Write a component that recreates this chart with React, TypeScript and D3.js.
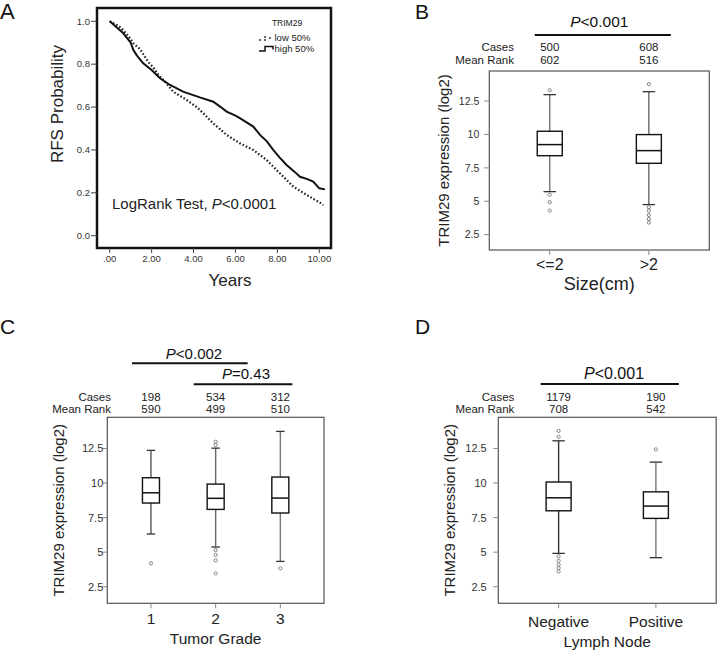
import * as d3 from "d3";

const FONT = "'Liberation Sans', Arial, Helvetica, sans-serif";

// ---- Panel A: RFS Kaplan-Meier by TRIM29 ----
const kmHighYears = [0, 0.3, 0.65, 1.0, 1.13, 1.3, 1.6, 2.0, 2.4, 2.88, 3.5, 4.3, 4.94, 5.3, 5.58, 6.0, 6.21, 6.85, 7.17, 7.5, 7.8, 8.1, 8.44, 8.8, 9.08, 9.4, 9.71, 10.0, 10.27];
const kmHighSurv = [1.0, 0.975, 0.944, 0.9, 0.866, 0.84, 0.804, 0.773, 0.734, 0.703, 0.672, 0.645, 0.625, 0.6, 0.579, 0.56, 0.548, 0.509, 0.47, 0.44, 0.4, 0.365, 0.33, 0.3, 0.275, 0.265, 0.252, 0.221, 0.216];
const kmLowYears = [0, 0.3, 0.57, 0.9, 1.13, 1.45, 1.84, 2.08, 2.32, 2.72, 3.03, 3.67, 4.15, 4.31, 4.94, 5.58, 6.21, 6.85, 7.49, 8.12, 8.76, 9.4, 10.03, 10.19];
const kmLowSurv = [1.0, 0.985, 0.967, 0.93, 0.897, 0.87, 0.81, 0.785, 0.75, 0.71, 0.672, 0.633, 0.6, 0.586, 0.524, 0.47, 0.431, 0.4, 0.353, 0.291, 0.229, 0.19, 0.154, 0.143];
const kmXTicks = [0, 2, 4, 6, 8, 10];
const kmYTicks = [0, 0.2, 0.4, 0.6, 0.8, 1.0];

// ---- Panel B: tumour size ----
const sizeCats = ["<=2", ">2"];
const sizeCases = [500, 608];
const sizeRank = [602, 516];
const sizeLo = [5.72, 4.75];
const sizeQ1 = [8.41, 7.84];
const sizeMed = [9.24, 8.79];
const sizeQ3 = [10.24, 9.99];
const sizeHi = [12.98, 13.2];
const sizeOut = [[13.31, 5.49, 4.93, 4.3], [13.76, 4.55, 4.3, 3.97, 3.67, 3.4]];

// ---- Panel C: tumour grade ----
const gradeCats = ["1", "2", "3"];
const gradeCases = [198, 534, 312];
const gradeRank = [590, 499, 510];
const gradeLo = [6.31, 5.37, 4.33];
const gradeQ1 = [8.55, 8.09, 7.83];
const gradeMed = [9.29, 8.89, 8.91];
const gradeQ3 = [10.38, 9.92, 10.43];
const gradeHi = [12.36, 12.52, 13.73];
const gradeOut = [[4.19], [12.98, 12.75, 5.15, 4.8, 4.4, 3.46], [3.83]];

// ---- Panel D: lymph node ----
const nodeCats = ["Negative", "Positive"];
const nodeCases = [1179, 190];
const nodeRank = [708, 542];
const nodeLo = [4.91, 4.6];
const nodeQ1 = [7.99, 7.44];
const nodeMed = [8.93, 8.33];
const nodeQ3 = [10.07, 9.36];
const nodeHi = [13.05, 11.51];
const nodeOut = [[13.77, 13.34, 4.7, 4.38, 4.1, 3.85, 3.6], [12.43]];

const boxTicks = [2.5, 5, 7.5, 10, 12.5];

type PBar = { from: number; to: number; dx0: number; dx1: number; y: number; text: string; tx: number; ty: number; fs: number };

type BoxProps = {
  cats: string[]; cases: number[]; rank: number[];
  lo: number[]; q1: number[]; med: number[]; q3: number[]; hi: number[]; out: number[][];
  x0: number; x1: number; y0: number; y1: number; domain: [number, number]; pad: number; bw: number;
  tickFs: number; labelGap: number; bars: PBar[]; headY: number; headRight: number;
  catY: number; catFs: number; title: string; titleY: number; titleFs: number; ylabX: number;
  whiskerColor: string[];
};

function BoxPanel(p: BoxProps) {
  const x = d3.scalePoint<string>().domain(p.cats).range([p.x0, p.x1]).padding(p.pad);
  const y = d3.scaleLinear().domain(p.domain).range([p.y1, p.y0]);
  const cx = (i: number) => x(p.cats[i]) as number;
  const hw = p.bw / 2;
  const gap = 12.6;
  return (
    <g fontFamily={FONT}>
      {p.bars.map((b, i) => (
        <g key={i}>
          <line x1={cx(b.from) + b.dx0} x2={cx(b.to) + b.dx1} y1={b.y} y2={b.y} stroke="#111" strokeWidth={2} />
          <text x={b.tx} y={b.ty} fontSize={b.fs} textAnchor="middle" fill="#111">
            <tspan fontStyle="italic">P</tspan>{b.text}
          </text>
        </g>
      ))}
      <text x={p.headRight} y={p.headY} fontSize={11.5} textAnchor="end" fill="#222">Cases</text>
      <text x={p.headRight} y={p.headY + gap} fontSize={11.5} textAnchor="end" fill="#222">Mean Rank</text>
      {p.cats.map((c, i) => (
        <g key={c}>
          <text x={cx(i)} y={p.headY} fontSize={11.5} textAnchor="middle" fill="#222">{p.cases[i]}</text>
          <text x={cx(i)} y={p.headY + gap} fontSize={11.5} textAnchor="middle" fill="#222">{p.rank[i]}</text>
        </g>
      ))}
      <rect x={p.x0} y={p.y0} width={p.x1 - p.x0} height={p.y1 - p.y0} fill="none" stroke="#555" strokeWidth={1.2} />
      {boxTicks.map((t) => (
        <g key={t}>
          <line x1={p.x0 - 5} x2={p.x0} y1={y(t)} y2={y(t)} stroke="#888" />
          <text x={p.x0 - p.labelGap} y={y(t) + p.tickFs * 0.36} fontSize={p.tickFs} textAnchor="end" fill="#333">{t}</text>
        </g>
      ))}
      {p.cats.map((c, i) => {
        const xc = cx(i);
        const wc = p.whiskerColor[i];
        return (
          <g key={c}>
            <line x1={xc} x2={xc} y1={p.y1} y2={p.y1 + 5} stroke="#888" />
            <text x={xc} y={p.catY} fontSize={p.catFs} textAnchor="middle" fill="#222">{c}</text>
            <line x1={xc} x2={xc} y1={y(p.hi[i])} y2={y(p.q3[i])} stroke={wc} strokeWidth={1.4} />
            <line x1={xc} x2={xc} y1={y(p.q1[i])} y2={y(p.lo[i])} stroke={wc} strokeWidth={1.4} />
            <line x1={xc - hw / 2} x2={xc + hw / 2} y1={y(p.hi[i])} y2={y(p.hi[i])} stroke="#333" strokeWidth={1.3} />
            <line x1={xc - hw / 2} x2={xc + hw / 2} y1={y(p.lo[i])} y2={y(p.lo[i])} stroke="#333" strokeWidth={1.3} />
            <rect x={xc - hw} y={y(p.q3[i])} width={p.bw} height={y(p.q1[i]) - y(p.q3[i])} fill="white" stroke="#111" strokeWidth={1.4} />
            <line x1={xc - hw} x2={xc + hw} y1={y(p.med[i])} y2={y(p.med[i])} stroke="#111" strokeWidth={1.5} />
            {p.out[i].map((o, k) => (
              <circle key={k} cx={xc} cy={y(o)} r={1.6} fill="none" stroke="#777" strokeWidth={0.9} />
            ))}
          </g>
        );
      })}
      <text x={(p.x0 + p.x1) / 2} y={p.titleY} fontSize={p.titleFs} textAnchor="middle" fill="#222">{p.title}</text>
      <text transform={`translate(${p.ylabX},${(p.y0 + p.y1) / 2}) rotate(-90)`} fontSize={15} textAnchor="middle" fill="#222">
        TRIM29 expression (log2)
      </text>
    </g>
  );
}

function KMPanel() {
  const fx0 = 97, fx1 = 331, fy0 = 8, fy1 = 248;
  const x = d3.scaleLinear().domain([0, 10]).range([109.7, 319.3]);
  const y = d3.scaleLinear().domain([0, 1]).range([235.7, 21.3]);
  const line = d3.line<[number, number]>().x((d) => x(d[0])).y((d) => y(d[1]));
  const high = kmHighYears.map((t, i) => [t, kmHighSurv[i]] as [number, number]);
  const low = kmLowYears.map((t, i) => [t, kmLowSurv[i]] as [number, number]);
  const fmtX = (v: number) => (v === 0 ? ".00" : v.toFixed(2));
  return (
    <g fontFamily={FONT}>
      <path d={line(low) ?? ""} fill="none" stroke="#222" strokeWidth={2.2} strokeDasharray="1.6,2" />
      <path d={line(high) ?? ""} fill="none" stroke="#111" strokeWidth={2} />
      <rect x={fx0} y={fy0} width={fx1 - fx0} height={fy1 - fy0} fill="none" stroke="#111" strokeWidth={2.5} />
      {kmYTicks.map((t) => (
        <g key={t}>
          <line x1={fx0 - 6} x2={fx0} y1={y(t)} y2={y(t)} stroke="#444" />
          <text x={fx0 - 7} y={y(t) + 3.3} fontSize={9.5} textAnchor="end" fill="#333">{t.toFixed(1)}</text>
        </g>
      ))}
      {kmXTicks.map((t) => (
        <g key={t}>
          <line x1={x(t)} x2={x(t)} y1={fy1} y2={fy1 + 5} stroke="#444" />
          <text x={x(t)} y={262} fontSize={9.5} textAnchor="middle" fill="#333">{fmtX(t)}</text>
        </g>
      ))}
      <text x={230} y={286} fontSize={17} textAnchor="middle" fill="#222">Years</text>
      <text transform="translate(63,104) rotate(-90)" fontSize={17} textAnchor="middle" fill="#222">RFS Probability</text>
      <text x={112} y={209} fontSize={15} fill="#222">
        LogRank Test, <tspan fontStyle="italic">P</tspan>&lt;0.0001
      </text>
      <text x={287} y={26} fontSize={8.5} textAnchor="middle" fill="#222">TRIM29</text>
      <g fill="#222">
        <circle cx={260} cy={40} r={0.9} />
        <circle cx={265} cy={37} r={0.9} />
        <circle cx={265} cy={40} r={0.9} />
        <circle cx={270} cy={38} r={0.9} />
      </g>
      <text x={274.5} y={41} fontSize={9.5} fill="#222">low 50%</text>
      <path d="M259,51 H265 V46.5 H273 V49.5" fill="none" stroke="#111" strokeWidth={1.5} />
      <text x={274.5} y={52} fontSize={9.5} fill="#222">high 50%</text>
    </g>
  );
}

export default function App() {
  return (
    <svg width={717} height={653} style={{ position: "absolute", left: 0, top: 0, background: "white" }}>
      <g fontFamily={FONT} fill="#111">
        <text x={0} y={19} fontSize={22}>A</text>
        <text x={415} y={18.5} fontSize={21}>B</text>
        <text x={0} y={334} fontSize={21}>C</text>
        <text x={415} y={334} fontSize={21}>D</text>
      </g>
      <KMPanel />
      <BoxPanel
        cats={sizeCats} cases={sizeCases} rank={sizeRank}
        lo={sizeLo} q1={sizeQ1} med={sizeMed} q3={sizeQ3} hi={sizeHi} out={sizeOut}
        x0={489.3} x1={709.3} y0={71} y1={250} domain={[1.35, 14.75]} pad={0.61} bw={25}
        tickFs={10.5} labelGap={10}
        bars={[{ from: 0, to: 1, dx0: -15, dx1: 22, y: 35, text: "<0.001", tx: 599.3, ty: 27.3, fs: 15.5 }]}
        headY={51} headRight={514}
        catY={270} catFs={16} title="Size(cm)" titleY={290} titleFs={18} ylabX={449}
        whiskerColor={["#777", "#666"]}
      />
      <BoxPanel
        cats={gradeCats} cases={gradeCases} rank={gradeRank}
        lo={gradeLo} q1={gradeQ1} med={gradeMed} q3={gradeQ3} hi={gradeHi} out={gradeOut}
        x0={107.3} x1={324} y0={417.3} y1={603.3} domain={[1.3, 14.75]} pad={0.675} bw={17}
        tickFs={11} labelGap={4}
        bars={[
          { from: 0, to: 1, dx0: -19, dx1: 32, y: 363.3, text: "<0.002", tx: 194, ty: 358.7, fs: 15 },
          { from: 1, to: 2, dx0: -22, dx1: 12, y: 384.3, text: "=0.43", tx: 246, ty: 379.3, fs: 15 },
        ]}
        headY={400.5} headRight={111}
        catY={623.5} catFs={15.5} title="Tumor Grade" titleY={644} titleFs={15.5} ylabX={64}
        whiskerColor={["#555", "#666", "#777"]}
      />
      <BoxPanel
        cats={nodeCats} cases={nodeCases} rank={nodeRank}
        lo={nodeLo} q1={nodeQ1} med={nodeMed} q3={nodeQ3} hi={nodeHi} out={nodeOut}
        x0={498.3} x1={716.2} y0={417.3} y1={603.3} domain={[1.3, 14.75]} pad={0.62} bw={25}
        tickFs={11} labelGap={11.6}
        bars={[{ from: 0, to: 1, dx0: -18, dx1: 23, y: 384, text: "<0.001", tx: 614, ty: 378.7, fs: 16 }]}
        headY={400.5} headRight={514.3}
        catY={627} catFs={15.5} title="Lymph Node" titleY={647} titleFs={15.5} ylabX={455}
        whiskerColor={["#333", "#777"]}
      />
    </svg>
  );
}
